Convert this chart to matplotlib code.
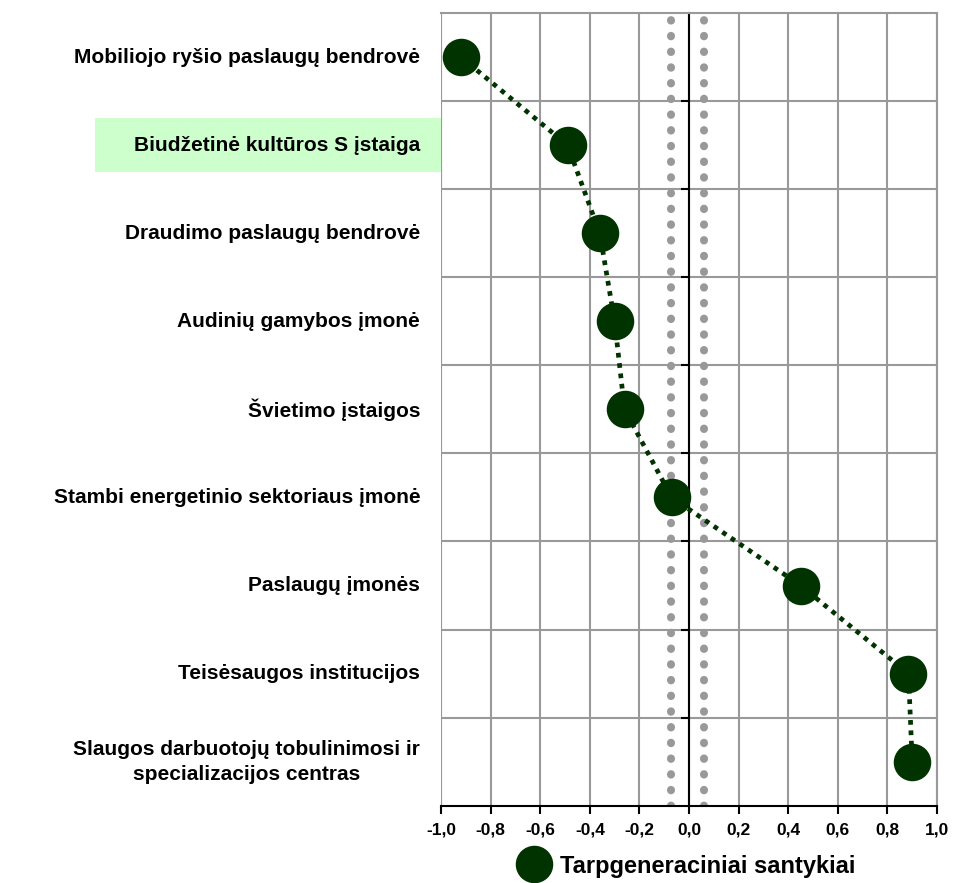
import matplotlib
matplotlib.use("Agg")
import matplotlib.pyplot as plt
import matplotlib.transforms as mtransforms
from matplotlib.lines import Line2D
from matplotlib.patches import Rectangle
import numpy as np

plt.rcParams["font.family"] = ["Liberation Sans", "DejaVu Sans"]
plt.rcParams["font.weight"] = "bold"

categories = [
    "Mobiliojo ryšio paslaugų bendrovė",
    "Biudžetinė kultūros S įstaiga",
    "Draudimo paslaugų bendrovė",
    "Audinių gamybos įmonė",
    "Švietimo įstaigos",
    "Stambi energetinio sektoriaus įmonė",
    "Paslaugų įmonės",
    "Teisėsaugos institucijos",
    "Slaugos darbuotojų tobulinimosi ir\nspecializacijos centras",
]
values = [-0.92, -0.49, -0.36, -0.30, -0.26, -0.07, 0.45, 0.885, 0.90]
highlight = "Biudžetinė kultūros S įstaiga"
band = [-0.073, 0.06]
xticks = np.arange(-1.0, 1.01, 0.2)
series_name = "Tarpgeneraciniai santykiai"

GREEN = "#003300"
GRID = "#999999"

fig = plt.figure(figsize=(9.71, 8.83), dpi=100)
ax = fig.add_axes([0.4542, 0.0875, 0.965 - 0.4542, 0.9853 - 0.0875])

y = np.arange(len(categories)) + 0.5
ax.set_xlim(-1, 1)
ax.set_ylim(len(categories), 0)

# grid
ax.set_xticks(xticks)
ax.set_yticks(np.arange(1, len(categories)), minor=True)
ax.set_yticks([])
ax.grid(axis="x", which="major", color=GRID, lw=1.5)
ax.grid(axis="y", which="minor", color=GRID, lw=1.5)
ax.set_axisbelow(True)

for s in ("top", "right"):
    ax.spines[s].set_color(GRID)
    ax.spines[s].set_linewidth(1.5)
ax.spines["bottom"].set_color("black")
ax.spines["bottom"].set_linewidth(1.5)
ax.spines["left"].set_position(("data", 0))
ax.spines["left"].set_color("black")
ax.spines["left"].set_linewidth(1.5)
ax.spines["left"].set_zorder(1)
# grey border on the left edge
ax.axvline(-1, color=GRID, lw=1.5, zorder=0.5)

ax.tick_params(axis="x", direction="out", length=6, width=1.5, color="black",
               labelsize=12.5, pad=6)
ax.tick_params(axis="y", which="minor", direction="out", length=6, width=1.5,
               color="black", labelleft=False)
ax.set_xticklabels([f"{t:.1f}".replace(".", ",").replace("-0,0", "0,0")
                    for t in xticks], fontweight="bold")

# dotted grey band around zero
for b in band:
    ax.axvline(b, color=GRID, lw=5.8, linestyle=(0, (0.05, 1.9)),
               dash_capstyle="round", zorder=1.5)

# series
ax.plot(values, y, color=GREEN, lw=3.4, linestyle=(0, (1, 1.2)),
        dash_capstyle="butt", zorder=2)
ax.plot(values, y, linestyle="none", marker="o", ms=26, color=GREEN, zorder=3)

# category labels
trans = mtransforms.blended_transform_factory(ax.transAxes, ax.transData)
for yy, name in zip(y, categories):
    if name == highlight:
        ax.add_patch(Rectangle((-0.698, yy - 0.31), 0.698, 0.62,
                               transform=trans, facecolor="#CCFFCC",
                               edgecolor="none", clip_on=False, zorder=0))
    ax.text(-0.042, yy, name, transform=trans, ha="right", va="center",
            fontsize=15, fontweight="bold", linespacing=1.4,
            multialignment="center")

handle = Line2D([], [], linestyle="none", marker="o", ms=26, color=GREEN)
leg = fig.legend([handle], [series_name], loc="center left",
                 bbox_to_anchor=(0.531, 0.019), frameon=False, fontsize=17,
                 handletextpad=0.3, borderpad=0, borderaxespad=0,
                 handlelength=1.6)
for t in leg.get_texts():
    t.set_fontweight("bold")

fig.savefig("out.png", dpi=100)
